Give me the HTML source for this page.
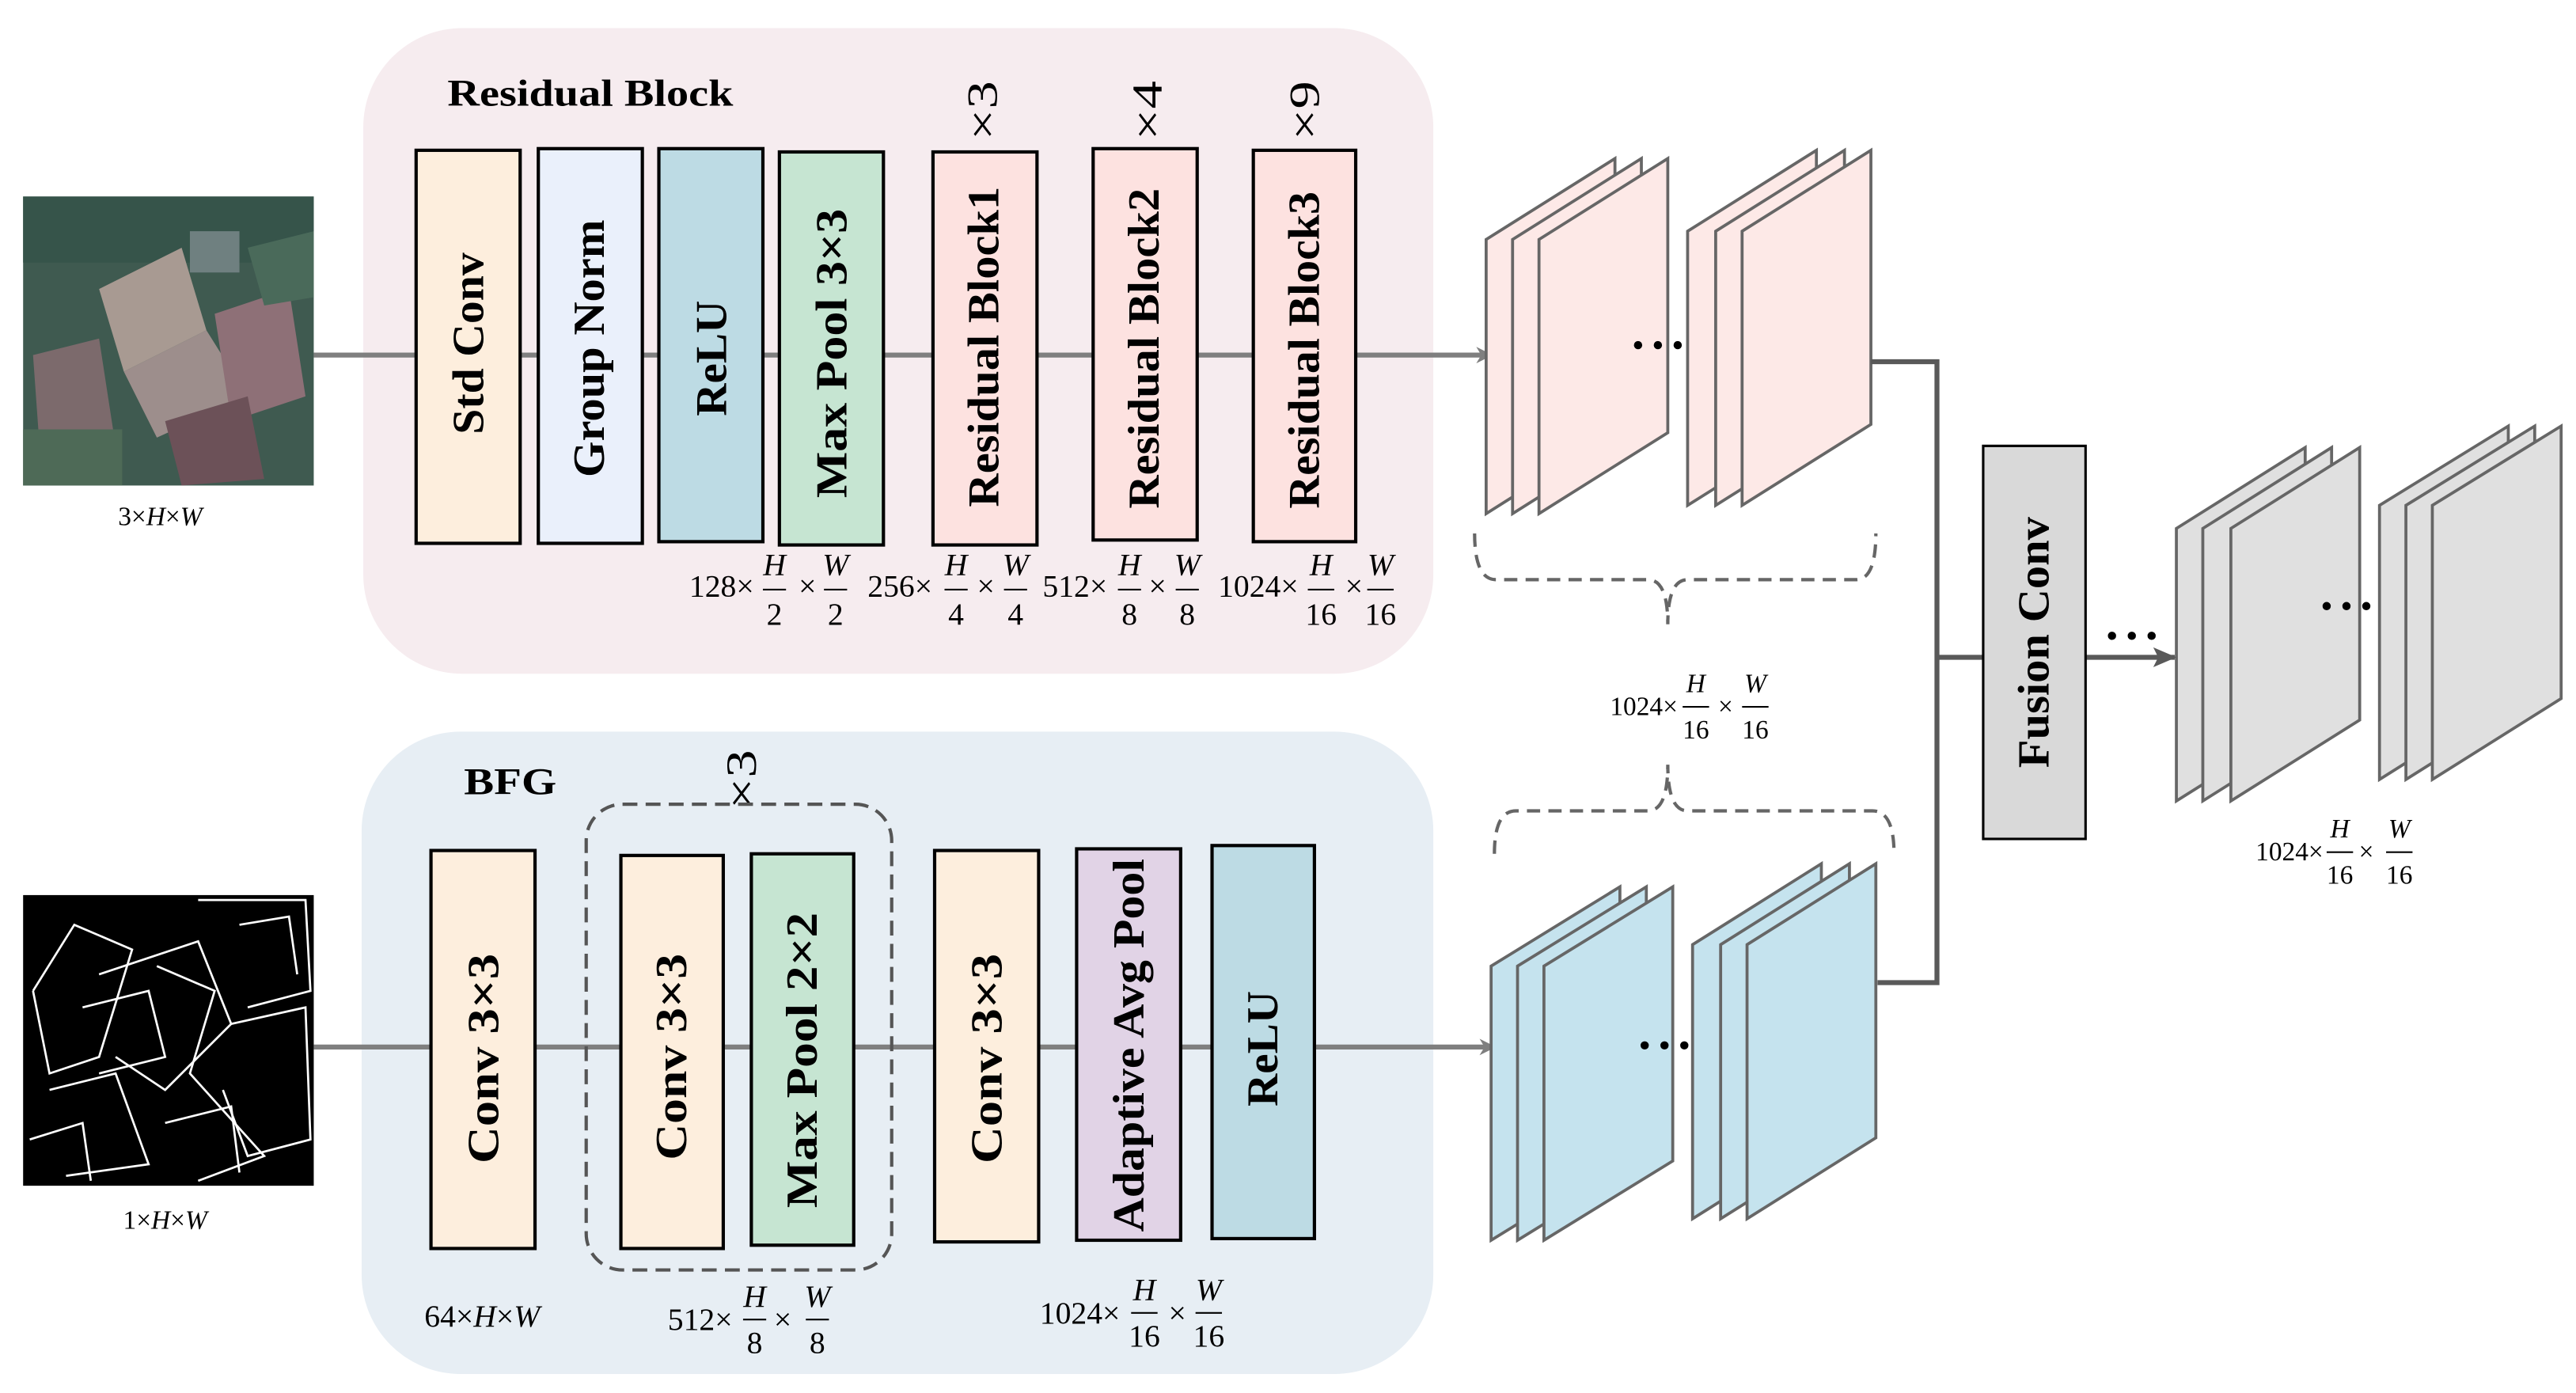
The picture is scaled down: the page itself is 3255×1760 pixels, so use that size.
<!DOCTYPE html>
<html><head><meta charset="utf-8"><style>html,body{margin:0;padding:0;background:#fff}svg{display:block}</style></head>
<body>
<svg width="3255" height="1760" viewBox="0 0 1560 843.5" preserveAspectRatio="none" xmlns="http://www.w3.org/2000/svg">
<defs>
<marker id="ah" markerWidth="10" markerHeight="10" refX="9" refY="5" orient="auto" markerUnits="userSpaceOnUse"><path d="M0,0 L10,5 L0,10 L3,5 Z" fill="#7f7f7f"/></marker>
<marker id="ah2" markerWidth="14" markerHeight="12" refX="13" refY="6" orient="auto" markerUnits="userSpaceOnUse"><path d="M0,0 L14,6 L0,12 L3,6 Z" fill="#595959"/></marker>
</defs>
<rect x="220" y="17" width="648" height="391" rx="60" fill="#f6ecef"/>
<rect x="219" y="443" width="649" height="389" rx="60" fill="#e7eef4"/>

<g>
<rect x="14" y="119" width="176" height="175" fill="#3f5a50"/>
<rect x="14" y="119" width="176" height="40" fill="#36544a"/>
<polygon points="60,175 110,150 125,200 75,225" fill="#a89a92"/>
<polygon points="75,225 125,200 150,240 95,265" fill="#9d8e8c"/>
<polygon points="130,190 175,175 185,240 140,255" fill="#8e7077"/>
<polygon points="20,215 60,205 70,270 25,285" fill="#7c6a6c"/>
<polygon points="100,255 150,240 160,290 110,294" fill="#6c5158"/>
<rect x="115" y="140" width="30" height="25" fill="#6f8080"/>
<polygon points="150,150 190,140 190,180 160,185" fill="#4a6a5a"/>
<rect x="14" y="260" width="60" height="34" fill="#4e6a57"/>
</g>
<g>
<rect x="14" y="542" width="176" height="176" fill="#000"/>
<g fill="none" stroke="#fff" stroke-width="1.3">
<polyline points="20,600 45,560 80,575 60,640 30,650 20,600"/>
<polyline points="60,590 120,570 140,620 100,660 70,640"/>
<polyline points="120,545 185,545 188,600 150,610"/>
<polyline points="95,585 130,600 115,650 160,700 120,715"/>
<polyline points="30,660 70,650 90,705 40,712"/>
<polyline points="140,620 185,610 188,690 150,700 135,660"/>
<polyline points="50,610 90,600 100,640 60,650"/>
<polyline points="145,560 175,555 180,590"/>
<polyline points="100,680 140,670 145,710"/>
<polyline points="18,690 50,680 55,715"/>
</g>
</g>
<g font-family="Liberation Serif, serif" font-size="16" fill="#000">
<text x="97" y="318" text-anchor="middle">3×<tspan font-style="italic">H</tspan>×<tspan font-style="italic">W</tspan></text>
<text x="100" y="744" text-anchor="middle">1×<tspan font-style="italic">H</tspan>×<tspan font-style="italic">W</tspan></text>
</g>

<line x1="190" y1="215" x2="903" y2="215" stroke="#7f7f7f" stroke-width="3" marker-end="url(#ah)"/>
<line x1="190" y1="634" x2="905" y2="634" stroke="#7f7f7f" stroke-width="3" marker-end="url(#ah)"/>

<g stroke="#000" stroke-width="2">
<rect x="252" y="91" width="63" height="238" fill="#fdeedd"/>
<rect x="326" y="90" width="63" height="239" fill="#eaf0fb"/>
<rect x="399" y="90" width="63" height="238" fill="#bddbe4"/>
<rect x="472" y="92" width="63" height="238" fill="#c6e5d2"/>
<rect x="565" y="92" width="63" height="238" fill="#fde2e0"/>
<rect x="662" y="90" width="63" height="237" fill="#fde2e0"/>
<rect x="759" y="91" width="62" height="237" fill="#fde2e0"/>
</g>
<g font-family="Liberation Serif, serif" font-weight="bold" font-size="27" fill="#000" text-anchor="middle" dominant-baseline="central">
<text transform="translate(284,208) rotate(-90)" textLength="110" lengthAdjust="spacingAndGlyphs">Std Conv</text>
<text transform="translate(357,211) rotate(-90)" textLength="156" lengthAdjust="spacingAndGlyphs">Group Norm</text>
<text transform="translate(431,217) rotate(-90)" textLength="70" lengthAdjust="spacingAndGlyphs">ReLU</text>
<text transform="translate(504,214) rotate(-90)" textLength="175" lengthAdjust="spacingAndGlyphs">Max Pool 3×3</text>
<text transform="translate(596,210) rotate(-90)" textLength="194" lengthAdjust="spacingAndGlyphs">Residual Block1</text>
<text transform="translate(693,211) rotate(-90)" textLength="194" lengthAdjust="spacingAndGlyphs">Residual Block2</text>
<text transform="translate(790,212) rotate(-90)" textLength="192" lengthAdjust="spacingAndGlyphs">Residual Block3</text>
</g>
<g font-family="Liberation Serif, serif" font-size="26" fill="#000" text-anchor="middle" dominant-baseline="central">
<text transform="translate(595,67) rotate(-90)" textLength="36" lengthAdjust="spacingAndGlyphs">×3</text>
<text transform="translate(695,67) rotate(-90)" textLength="36" lengthAdjust="spacingAndGlyphs">×4</text>
<text transform="translate(790,67) rotate(-90)" textLength="36" lengthAdjust="spacingAndGlyphs">×9</text>
<text transform="translate(449,472) rotate(-90)" textLength="36" lengthAdjust="spacingAndGlyphs">×3</text>
</g>
<g font-family="Liberation Serif, serif" font-weight="bold" font-size="23" fill="#000">
<text x="271" y="64" textLength="173" lengthAdjust="spacingAndGlyphs">Residual Block</text>
<text x="281" y="481" textLength="56" lengthAdjust="spacingAndGlyphs">BFG</text>
</g>

<rect x="355" y="487" width="185" height="282" rx="22" fill="none" stroke="#555" stroke-width="2" stroke-dasharray="9,5"/>
<g stroke="#000" stroke-width="2">
<rect x="261" y="515" width="63" height="241" fill="#fdeedd"/>
<rect x="376" y="518" width="62" height="238" fill="#fdeedd"/>
<rect x="455" y="517" width="62" height="237" fill="#c6e5d2"/>
<rect x="566" y="515" width="63" height="237" fill="#fdeedd"/>
<rect x="652" y="514" width="63" height="237" fill="#e1d3e6"/>
<rect x="734" y="512" width="62" height="238" fill="#bddbe4"/>
</g>
<g font-family="Liberation Serif, serif" font-weight="bold" font-size="27" fill="#000" text-anchor="middle" dominant-baseline="central">
<text transform="translate(293,641) rotate(-90)" textLength="127" lengthAdjust="spacingAndGlyphs">Conv 3×3</text>
<text transform="translate(407,640) rotate(-90)" textLength="125" lengthAdjust="spacingAndGlyphs">Conv 3×3</text>
<text transform="translate(486,642) rotate(-90)" textLength="179" lengthAdjust="spacingAndGlyphs">Max Pool 2×2</text>
<text transform="translate(598,641) rotate(-90)" textLength="127" lengthAdjust="spacingAndGlyphs">Conv 3×3</text>
<text transform="translate(684,633) rotate(-90)" textLength="226" lengthAdjust="spacingAndGlyphs">Adaptive Avg Pool</text>
<text transform="translate(765,635) rotate(-90)" textLength="70" lengthAdjust="spacingAndGlyphs">ReLU</text>
</g>

<g font-family="Liberation Serif, serif" font-size="19" fill="#000" text-anchor="middle" dominant-baseline="central" stroke="none">
<text x="437" y="355">128×</text>
<text x="469" y="342" font-style="italic">H</text><text x="469" y="372">2</text>
<text x="489" y="355">×</text>
<text x="506" y="342" font-style="italic">W</text><text x="506" y="372">2</text>
<text x="545" y="355">256×</text>
<text x="579" y="342" font-style="italic">H</text><text x="579" y="372">4</text>
<text x="597" y="355">×</text>
<text x="615" y="342" font-style="italic">W</text><text x="615" y="372">4</text>
<text x="651" y="355">512×</text>
<text x="684" y="342" font-style="italic">H</text><text x="684" y="372">8</text>
<text x="701" y="355">×</text>
<text x="719" y="342" font-style="italic">W</text><text x="719" y="372">8</text>
<text x="762" y="355">1024×</text>
<text x="800" y="342" font-style="italic">H</text><text x="800" y="372">16</text>
<text x="820" y="355">×</text>
<text x="836" y="342" font-style="italic">W</text><text x="836" y="372">16</text>
<text x="292" y="797">64×<tspan font-style="italic">H</tspan>×<tspan font-style="italic">W</tspan></text>
<text x="424" y="799">512×</text>
<text x="457" y="785" font-style="italic">H</text><text x="457" y="813">8</text>
<text x="474" y="799">×</text>
<text x="495" y="785" font-style="italic">W</text><text x="495" y="813">8</text>
<text x="654" y="795">1024×</text>
<text x="693" y="781" font-style="italic">H</text><text x="693" y="809">16</text>
<text x="713" y="795">×</text>
<text x="732" y="781" font-style="italic">W</text><text x="732" y="809">16</text>
</g>
<g font-family="Liberation Serif, serif" font-size="16" fill="#000" dominant-baseline="central">
<text x="1016" y="428" text-anchor="end">1024×</text>
<g text-anchor="middle">
<text x="1027" y="414" font-style="italic">H</text><text x="1027" y="442">16</text>
<text x="1045" y="428">×</text>
<text x="1063" y="414" font-style="italic">W</text><text x="1063" y="442">16</text>
</g>
<text x="1407" y="516" text-anchor="end">1024×</text>
<g text-anchor="middle">
<text x="1417" y="502" font-style="italic">H</text><text x="1417" y="530">16</text>
<text x="1433" y="516">×</text>
<text x="1453" y="502" font-style="italic">W</text><text x="1453" y="530">16</text>
</g>
</g>
<g stroke="#000" stroke-width="1">
<line x1="462" y1="357" x2="476" y2="357"/><line x1="499" y1="357" x2="513" y2="357"/>
<line x1="572" y1="357" x2="586" y2="357"/><line x1="608" y1="357" x2="622" y2="357"/>
<line x1="677" y1="357" x2="691" y2="357"/><line x1="712" y1="357" x2="726" y2="357"/>
<line x1="792" y1="357" x2="808" y2="357"/><line x1="828" y1="357" x2="844" y2="357"/>
<line x1="450" y1="799" x2="464" y2="799"/><line x1="488" y1="799" x2="502" y2="799"/>
<line x1="685" y1="795" x2="701" y2="795"/><line x1="724" y1="795" x2="740" y2="795"/>
<line x1="1019" y1="428" x2="1035" y2="428"/><line x1="1055" y1="428" x2="1071" y2="428"/>
<line x1="1409" y1="516" x2="1425" y2="516"/><line x1="1445" y1="516" x2="1461" y2="516"/>
</g>

<g stroke="#666" stroke-width="1.8" stroke-linejoin="miter">
<g fill="#fde9e7">
<polygon points="900,145 978,96 978,262 900,311"/>
<polygon points="916,145 994,96 994,262 916,311"/>
<polygon points="932,145 1010,96 1010,262 932,311"/>
<polygon points="1022,140 1100,91 1100,257 1022,306"/>
<polygon points="1039,140 1117,91 1117,257 1039,306"/>
<polygon points="1055,140 1133,91 1133,257 1055,306"/>
</g>
<g fill="#c5e3ee">
<polygon points="903,585 981,537 981,703 903,751"/>
<polygon points="919,585 997,537 997,703 919,751"/>
<polygon points="935,585 1013,537 1013,703 935,751"/>
<polygon points="1025,572 1103,523 1103,689 1025,738"/>
<polygon points="1042,572 1120,523 1120,689 1042,738"/>
<polygon points="1058,572 1136,523 1136,689 1058,738"/>
</g>
<g fill="#e0e0e0">
<polygon points="1318,320 1396,271 1396,436 1318,485"/>
<polygon points="1334,320 1412,271 1412,436 1334,485"/>
<polygon points="1351,320 1429,271 1429,436 1351,485"/>
<polygon points="1441,306 1519,258 1519,423 1441,472"/>
<polygon points="1457,306 1535,258 1535,423 1457,472"/>
<polygon points="1473,306 1551,258 1551,423 1473,472"/>
</g>
</g>
<g fill="#000">
<circle cx="992" cy="209" r="2.5"/><circle cx="1004" cy="209" r="2.5"/><circle cx="1016" cy="209" r="2.5"/>
<circle cx="996" cy="633" r="2.5"/><circle cx="1008" cy="633" r="2.5"/><circle cx="1020" cy="633" r="2.5"/>
<circle cx="1279" cy="385" r="2.5"/><circle cx="1291" cy="385" r="2.5"/><circle cx="1303" cy="385" r="2.5"/>
<circle cx="1409" cy="367" r="2.5"/><circle cx="1421" cy="367" r="2.5"/><circle cx="1433" cy="367" r="2.5"/>
</g>

<g fill="none" stroke="#666" stroke-width="2" stroke-dasharray="8,5">
<path d="M893,323 Q893,351 906,351 L998,351 Q1010,351 1010,378 Q1010,351 1022,351 L1124,351 Q1136,351 1136,323"/>
<path d="M905,517 Q905,491 918,491 L998,491 Q1010,491 1010,463 Q1010,491 1022,491 L1134,491 Q1147,491 1147,517"/>
</g>

<g fill="none" stroke="#595959" stroke-width="3">
<polyline points="1133,219 1173,219 1173,595 1137,595"/>
<line x1="1173" y1="398" x2="1201" y2="398"/>
<line x1="1263" y1="398" x2="1317" y2="398" marker-end="url(#ah2)"/>
</g>
<rect x="1201" y="270" width="62" height="238" fill="#d9d9d9" stroke="#000" stroke-width="1.5"/>
<text transform="translate(1232,389) rotate(-90)" font-family="Liberation Serif, serif" font-weight="bold" font-size="27" text-anchor="middle" dominant-baseline="central" textLength="152" lengthAdjust="spacingAndGlyphs">Fusion Conv</text>
</svg>
</body></html>
